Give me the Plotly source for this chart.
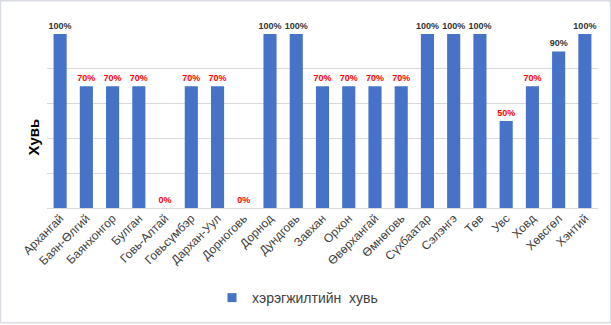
import plotly.graph_objects as go

aimags = ["Архангай", "Баян-Өлгий", "Баянхонгор", "Булган", "Говь-Алтай", "Говьсүмбэр",
          "Дархан-Уул", "Дорноговь", "Дорнод", "Дундговь", "Завхан", "Орхон", "Өвөрхангай",
          "Өмнөговь", "Сүхбаатар", "Сэлэнгэ", "Төв", "Увс", "Ховд", "Хөвсгөл", "Хэнтий"]
values = [1.0, 0.7, 0.7, 0.7, 0.0, 0.7, 0.7, 0.0, 1.0, 1.0, 0.7, 0.7, 0.7, 0.7,
          1.0, 1.0, 1.0, 0.5, 0.7, 0.9, 1.0]
series_name = "хэрэгжилтийн\u00a0\u00a0хувь"

labels = [f"<b>{round(v*100)}%</b>" for v in values]
label_colors = ["#333333" if v >= 0.9 else "#ff0000" for v in values]

W, H = 611, 325
L, R, T, B = 47, 13, 34, 116
BAR_COLOR = "#4673c8"

fig = go.Figure()
fig.add_trace(go.Bar(
    x=aimags, y=values, name=series_name,
    marker=dict(color=BAR_COLOR, line=dict(width=0)),
    text=labels, textposition="outside", constraintext="none",
    textfont=dict(family="Liberation Sans, Arial", size=9, color=label_colors),
    cliponaxis=False, showlegend=False,
))
# legend entry with a small square swatch
fig.add_trace(go.Scatter(
    x=[None], y=[None], mode="markers", name=series_name,
    marker=dict(symbol="square", size=9, color=BAR_COLOR), showlegend=True,
))

pw = W - L - R
ph = H - T - B
fig.add_shape(type="rect", xref="paper", yref="paper",
              x0=(0.5 - L) / pw, x1=(W - 0.5 - L) / pw,
              y0=-(H - 0.5 - T - ph) / ph, y1=(T - 0.5) / ph + 1,
              line=dict(color="#d9dde3", width=1.5), fillcolor="rgba(0,0,0,0)", layer="below")

fig.update_layout(
    width=W, height=H,
    margin=dict(l=L, r=R, t=T, b=B),
    paper_bgcolor="white", plot_bgcolor="white",
    bargap=0.5,
    font=dict(family="Liberation Sans, Arial", color="#404040"),
    xaxis=dict(tickangle=-45, tickfont=dict(size=12, color="#404040"),
               showgrid=False, showline=False, ticks=""),
    yaxis=dict(range=[0, 1.0], dtick=0.2, showticklabels=False, showgrid=True,
               gridcolor="#d9d9d9", gridwidth=1, zeroline=True, zerolinecolor="#d9d9d9",
               zerolinewidth=1, showline=False),
    legend=dict(orientation="h", x=(212 - L) / pw, xanchor="left", y=-(298 - T - ph) / ph,
                yanchor="middle", itemwidth=30, font=dict(size=14, color="#404040")),
    annotations=[dict(text="<b>Хувь</b>", textangle=-90, xref="paper", yref="paper",
                      x=(33 - L) / pw, y=1 - (138 - T) / ph, xanchor="center", yanchor="middle",
                      showarrow=False, font=dict(size=15, color="#000000"))],
)

fig.write_html("out.html")
